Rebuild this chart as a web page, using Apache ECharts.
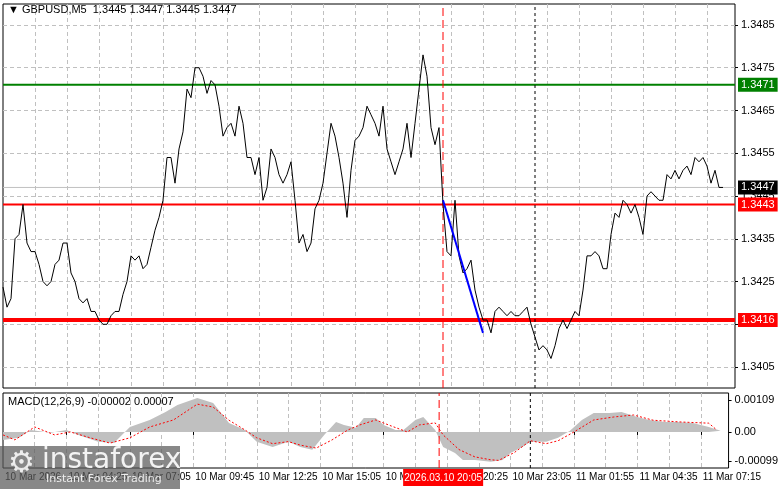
<!DOCTYPE html>
<html><head><meta charset="utf-8">
<script src="https://cdn.jsdelivr.net/npm/echarts@6/dist/echarts.min.js"></script>
<style>html,body{margin:0;padding:0;background:#fff}#c{width:781px;height:489px}</style>
</head><body><div id="c"></div>
<script>
const title = '▼ GBPUSD,M5  1.3445 1.3447 1.3445 1.3447';
const tickLabels = ['10 Mar 2026','10 Mar 04:25','10 Mar 07:05','10 Mar 09:45','10 Mar 12:25','10 Mar 15:05','10 Mar 17:45','10 Mar 20:25','10 Mar 23:05','11 Mar 01:55','11 Mar 04:35','11 Mar 07:15'];
const priceTicks = [1.3405,1.3415,1.3425,1.3435,1.3445,1.3455,1.3465,1.3475,1.3485];
const close = [
1.34237,1.3419,1.3421,1.3435,1.3436,1.3443,1.3434,1.3432,1.3432,1.3429,1.3425,1.3424,1.3425,1.3429,1.3430,1.3434,1.3434,1.3427,1.3425,1.3421,
1.3420,1.3421,1.3418,1.3418,1.3416,1.3415,1.3415,1.3417,1.3418,1.3418,1.3422,1.3425,1.3431,1.3430,1.3431,1.3428,1.3429,1.3433,1.3437,1.3440,
1.3444,1.3454,1.3454,1.3448,1.3456,1.3460,1.3470,1.3468,1.3475,1.3475,1.3473,1.3469,1.3472,1.3471,1.3466,1.3459,1.3461,1.3462,1.3459,1.3466,
1.3462,1.3454,
1.3454,1.3450,1.3454,1.3444,1.3447,1.3456,1.3454,1.3450,1.3448,1.3450,1.3453,1.3444,1.3434,1.3436,1.3432,1.3434,1.3442,1.3444,1.3448,1.3455,
1.3462,1.3459,1.3454,1.3448,1.3440,1.3451,1.3458,1.3459,1.3461,1.3466,1.3464,1.3462,1.3459,1.3466,1.3456,1.3453,1.3450,1.3453,1.3456,1.3462,
1.3454,1.3462,1.3470,1.3478,1.3473,1.3461,1.3457,1.3461,1.3443,1.3432,1.3431,1.3444,1.3431,1.3427,1.3428,
1.3430,1.3423,1.3419,1.3416,1.3416,1.3413,1.3418,1.3419,1.3418,1.3417,1.3418,1.3417,1.3417,1.3418,1.3419,1.3415,1.3412,1.3409,1.3410,1.3409,
1.3407,1.3410,1.3414,1.3416,1.3414,1.3416,1.3418,1.3417,1.3423,1.3431,1.3431,1.3432,1.3431,1.3428,1.3428,1.3436,1.3441,1.3440,1.3444,1.3443,
1.3441,1.3443,1.3440,1.3436,1.3445,1.3446,1.3445,1.3444,1.3444,1.3450,1.3449,1.3451,1.3449,1.3451,1.3452,1.3450,1.3454,1.3453,1.3454,1.3452,
1.3448,1.3451,1.3447,1.3447];
const histIdx = [0,4,7,12,16,19,24,28,32,37,41,44,49,53,57,61,64,68,72,75,78,81,84,86,89,91,94,96,99,101,104,106,109,111,114,116,119,123,126,128,131,133,137,140,143,146,149,153,156,160,163,167,170,174,178,181];
const histVal = [-27,-20,7,-3,7,-10,-33,-38,17,41,68,92,116,99,31,7,-33,-51,-33,-51,-61,-10,34,24,14,48,48,24,7,7,41,51,7,-51,-72,-96,-96,-102,-96,-72,-51,-33,-33,-20,4,41,65,65,68,51,41,34,34,31,17,4];
const sigIdx = [0,3,8,13,17,22,27,32,37,43,49,53,57,61,64,68,72,75,79,83,87,90,94,98,102,105,109,111,115,119,123,125,129,133,137,140,144,149,154,159,164,171,178,180];
const sigVal = [-10,-27,17,-10,0,-20,-38,-20,17,41,95,85,40,7,-20,-40,-33,-45,-55,-27,7,24,41,20,0,24,31,-10,-60,-85,-95,-97,-70,-30,-40,-30,0,41,51,58,40,34,30,7];
const levels = {green:1.3471, red1:1.3443, red2:1.3416, last:1.3447};
const trend = [[110,1.3444],[120,1.3413]];
const cursorIdx = 110, sepIdx = 133;

const N = close.length + 3;
const cats = []; for (let i=0;i<N;i++) cats.push(String(i));
const font = 'Liberation Sans';
const PMIN = 1.34001, PMAX = 1.34899;
const xCommon = {type:'category',data:cats,boundaryGap:false,
  axisLine:{show:false},
  splitLine:{show:true,interval:(i)=>i>0&&i%8===0,lineStyle:{color:'#c0c0c0',type:[4,3]}},
};
function level(v,color,width,bg,z){
  return {type:'line',xAxisIndex:0,yAxisIndex:0,data:[[0,v],[N-1,v]],symbol:'none',z:z,silent:true,
    lineStyle:{color:color,width:width},
    endLabel:{show:true,formatter:()=>v.toFixed(4),backgroundColor:bg,color:'#fff',padding:[2,3,1,3],fontSize:11,fontFamily:font,distance:3}};
}
function vline(idx,xi,yi,ymin,ymax,color,type){
  return {type:'line',xAxisIndex:xi,yAxisIndex:yi,data:[[idx,ymin],[idx,ymax]],symbol:'none',silent:true,z:4,
    lineStyle:{color:color,width:1,type:type}};
}
const chart = echarts.init(document.getElementById('c'));
chart.setOption({
  animation:false,
  backgroundColor:'#fff',
  grid:[{left:3,right:46,top:4,height:384,show:true,borderColor:'#000',borderWidth:1},
        {left:3,right:46,top:393,height:75,show:true,borderColor:'#000',borderWidth:1}],
  xAxis:[Object.assign({gridIndex:0,axisLabel:{show:false},axisTick:{show:false}},xCommon),
         Object.assign({gridIndex:1,axisTick:{show:true,interval:(i)=>i%16===0,length:3,lineStyle:{color:'#000'}},
           axisLabel:{show:false}},xCommon)],
  yAxis:[{gridIndex:0,type:'value',position:'right',min:PMIN,max:PMAX,
     axisLine:{show:false},
     axisTick:{show:true,customValues:priceTicks,length:3,lineStyle:{color:'#000'}},
     axisLabel:{customValues:priceTicks,formatter:(v)=>v.toFixed(4),color:'#000',fontSize:11,fontFamily:font,margin:6},
     splitLine:{show:true,lineStyle:{color:'#c0c0c0',type:[4,3]}}},
    {gridIndex:1,type:'value',position:'right',min:-123,max:133,
     axisLine:{show:false},
     axisTick:{show:true,customValues:[-99,0,109],length:3,lineStyle:{color:'#000'}},
     axisLabel:{customValues:[-99,0,109],formatter:(v)=>v===0?'0.00':(v/100000).toFixed(5),color:'#000',fontSize:11,fontFamily:font,margin:6},
     splitLine:{show:false}}],
  series:[
    level(levels.last,'#c0c0c0',1,'#000',3),
    level(levels.green,'#008000',2,'#008000',3),
    level(levels.red1,'#ff0000',2,'#ff0000',3),
    level(levels.red2,'#ff0000',4,'#ff0000',3),
    vline(cursorIdx,0,0,PMIN,PMAX,'#ff0000',[8,4]),
    vline(sepIdx,0,0,PMIN,PMAX,'#000',[3,3]),
    vline(cursorIdx,1,1,-123,133,'#ff0000',[8,4]),
    vline(sepIdx,1,1,-123,133,'#000',[3,3]),
    {type:'line',xAxisIndex:0,yAxisIndex:0,data:close,symbol:'none',lineStyle:{color:'#000',width:1},z:5},
    {type:'line',xAxisIndex:0,yAxisIndex:0,data:trend,symbol:'none',lineStyle:{color:'#0000ff',width:2},z:6},
    {type:'line',xAxisIndex:1,yAxisIndex:1,data:histIdx.map((x,i)=>[x,histVal[i]]),symbol:'none',
     lineStyle:{width:0},areaStyle:{color:'#c0c0c0',opacity:1,origin:0},z:2},
    {type:'line',xAxisIndex:1,yAxisIndex:1,data:sigIdx.map((x,i)=>[x,sigVal[i]]),symbol:'none',
     lineStyle:{color:'#ff0000',width:1,type:[2,2]},z:3}
  ]
});
const px = chart.convertToPixel({xAxisIndex:1},cursorIdx);
const g = [];
tickLabels.forEach((t,i)=>{
  const x = chart.convertToPixel({xAxisIndex:1},i*16);
  g.push({type:'text',x:x+2,y:472,style:{text:t,fill:'#000',font:'10px Liberation Sans'},z:15});
});
g.push(
  {type:'text',left:8,top:4,style:{text:title,fill:'#000',font:'11px Liberation Sans'},z:10},
  {type:'text',left:8,top:396,style:{text:'MACD(12,26,9) -0.00002 0.00007',fill:'#000',font:'11px Liberation Sans'},z:10},
  {type:'rect',shape:{x:px-36,y:469,width:80,height:17},style:{fill:'#ff0000'},z:20},
  {type:'text',x:px+4,y:478,style:{text:'2026.03.10 20:05',fill:'#fff',font:'10px Liberation Sans',align:'center',verticalAlign:'middle'},z:21},
  {type:'rect',shape:{x:0,y:446,width:180,height:43},style:{fill:'rgba(90,90,90,0.72)'},z:30},
  {type:'text',x:8,y:449,style:{text:'⚙',fill:'rgba(255,255,255,0.85)',font:'30px DejaVu Sans'},z:31},
  {type:'text',x:42,y:447,style:{text:'instaforex',fill:'rgba(255,255,255,0.9)',font:'28px DejaVu Sans'},z:31},
  {type:'text',x:46,y:474,style:{text:'Instant Forex Trading',fill:'rgba(255,255,255,0.85)',font:'11px DejaVu Sans'},z:31}
);
chart.setOption({graphic:g});
</script></body></html>
